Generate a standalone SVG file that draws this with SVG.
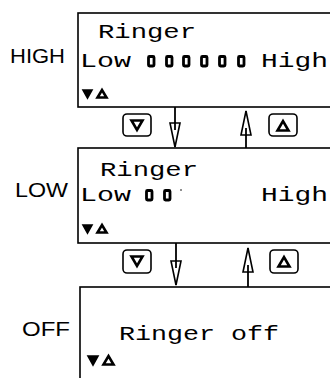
<svg xmlns="http://www.w3.org/2000/svg" width="330" height="378" viewBox="0 0 330 378">
<defs>
<style>
.box{fill:#fff;stroke:#000;stroke-width:1.6}
.mono{font-family:"Liberation Mono","Courier New",monospace;font-size:20.5px;fill:#000}
.lbl{font-family:"Liberation Sans",Arial,sans-serif;font-size:20px;fill:#000}
.bar{fill:#fff;stroke:#000;stroke-width:2.8}
.tri{fill:#fff;stroke:#000;stroke-width:2.6;stroke-linejoin:miter}
.trif{fill:#000;stroke:#000;stroke-width:1.6;stroke-linejoin:miter}
.btn{fill:#fff;stroke:#000;stroke-width:1.6}
.conn{stroke:#000;stroke-width:1.8;fill:none}
</style>
<marker id="open" markerUnits="userSpaceOnUse" viewBox="0 0 26 12" markerWidth="26" markerHeight="12" refX="25" refY="6" orient="auto">
<path d="M1,1 L25,6 L1,11 Z" fill="#fff" stroke="#000" stroke-width="1.6"/>
<path d="M0,6 L8,6" stroke="#000" stroke-width="1.8"/>
</marker>
</defs>

<g id="label-high"><text class="lbl" x="10" y="63" textLength="55" lengthAdjust="spacingAndGlyphs">HIGH</text></g>
<g id="label-low"><text class="lbl" x="15" y="197" textLength="53" lengthAdjust="spacingAndGlyphs">LOW</text></g>
<g id="label-off"><text class="lbl" x="22" y="336" textLength="48" lengthAdjust="spacingAndGlyphs">OFF</text></g>

<g id="node-high">
<rect class="box" x="78" y="13" width="270" height="94"/>
<text class="mono" x="98" y="38" textLength="98" lengthAdjust="spacingAndGlyphs">Ringer</text>
<text class="mono" x="80" y="67" textLength="51" lengthAdjust="spacingAndGlyphs">Low</text>
<rect class="bar" x="148.5" y="56.5" width="5.5" height="9.5" rx="1"/>
<rect class="bar" x="166.5" y="56.5" width="5.5" height="9.5" rx="1"/>
<rect class="bar" x="183.5" y="56.5" width="5.5" height="9.5" rx="1"/>
<rect class="bar" x="201.5" y="56.5" width="5.5" height="9.5" rx="1"/>
<rect class="bar" x="219.5" y="56.5" width="5.5" height="9.5" rx="1"/>
<rect class="bar" x="238.5" y="56.5" width="5.5" height="9.5" rx="1"/>
<text class="mono" x="261" y="67" textLength="67" lengthAdjust="spacingAndGlyphs">High</text>
<polygon class="trif" points="83,90 92,90 87.5,98"/>
<polygon class="tri" points="97.5,97.5 106.5,97.5 102,90"/>
</g>

<g id="node-low">
<rect class="box" x="78" y="148" width="270" height="95"/>
<text class="mono" x="100" y="176" textLength="98" lengthAdjust="spacingAndGlyphs">Ringer</text>
<text class="mono" x="80" y="201" textLength="51" lengthAdjust="spacingAndGlyphs">Low</text>
<rect class="bar" x="146.5" y="190.5" width="5.5" height="9.5" rx="1"/>
<rect class="bar" x="164.5" y="190.5" width="5.5" height="9.5" rx="1"/>
<circle cx="181" cy="190" r="0.8" fill="#000"/>
<text class="mono" x="261" y="201" textLength="67" lengthAdjust="spacingAndGlyphs">High</text>
<polygon class="trif" points="83,225 92,225 87.5,233"/>
<polygon class="tri" points="97.5,232.5 106.5,232.5 102,225"/>
</g>

<g id="node-off">
<rect class="box" x="80" y="287" width="270" height="120"/>
<text class="mono" x="119" y="340" textLength="160" lengthAdjust="spacingAndGlyphs">Ringer off</text>
<polygon class="trif" points="88,356 98,356 93,365"/>
<polygon class="tri" points="103.5,364.5 113.5,364.5 108.5,356"/>
</g>

<g id="button-down-1">
<rect class="btn" x="123" y="114" width="28" height="22" rx="4"/>
<polygon class="tri" points="131.5,120.5 142.5,120.5 137,130"/>
</g>
<g id="button-up-1">
<rect class="btn" x="269" y="114" width="28" height="22" rx="4"/>
<polygon class="tri" points="277.5,130.5 288.5,130.5 283,121"/>
</g>
<g id="button-down-2">
<rect class="btn" x="123" y="250" width="28" height="23" rx="4"/>
<polygon class="tri" points="131.5,256.5 142.5,256.5 137,266"/>
</g>
<g id="button-up-2">
<rect class="btn" x="270" y="250" width="28" height="23" rx="4"/>
<polygon class="tri" points="278.5,266.5 289.5,266.5 284,257"/>
</g>

<g id="connectors">
<line class="conn" x1="175" y1="107" x2="175" y2="147" marker-end="url(#open)"/>
<line class="conn" x1="246" y1="148" x2="246" y2="111" marker-end="url(#open)"/>
<line class="conn" x1="176" y1="243" x2="176" y2="285" marker-end="url(#open)"/>
<line class="conn" x1="248" y1="287" x2="248" y2="248" marker-end="url(#open)"/>
</g>
</svg>
